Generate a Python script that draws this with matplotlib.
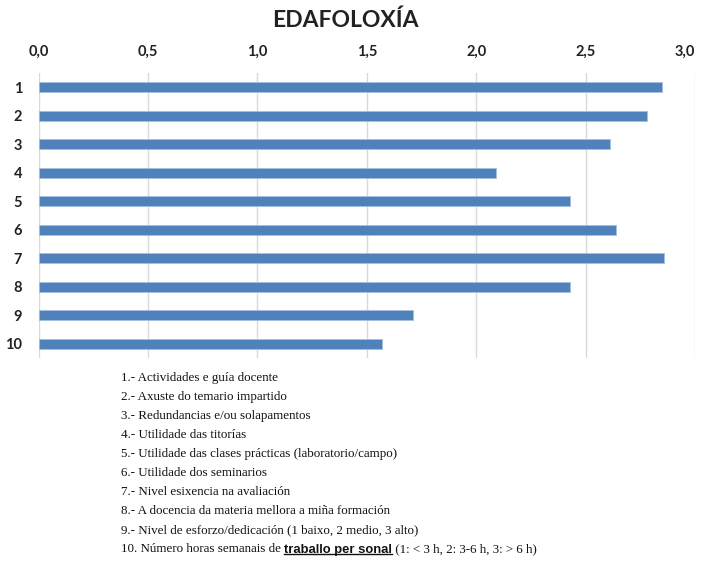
import matplotlib.pyplot as plt

# data
categories = ["1", "2", "3", "4", "5", "6", "7", "8", "9", "10"]
values = [2.85, 2.78, 2.61, 2.09, 2.43, 2.64, 2.86, 2.43, 1.71, 1.57]
ticks = [0.0, 0.5, 1.0, 1.5, 2.0, 2.5, 3.0]
tick_labels = ["0,0", "0,5", "1,0", "1,5", "2,0", "2,5", "3,0"]
legend_lines = [
    "1.- Actividades e guía docente",
    "2.- Axuste do temario impartido",
    "3.- Redundancias e/ou solapamentos",
    "4.- Utilidade das titorías",
    "5.- Utilidade das clases prácticas (laboratorio/campo)",
    "6.- Utilidade dos seminarios",
    "7.- Nivel esixencia na avaliación",
    "8.- A docencia da materia mellora a miña formación",
    "9.- Nivel de esforzo/dedicación (1 baixo, 2 medio, 3 alto)",
]
last_line = ("10. Número horas semanais de ", "traballo per sonal",
             " (1: < 3 h, 2: 3-6 h, 3: > 6 h)")

sans = ["Lato", "DejaVu Sans"]
serif = ["Liberation Serif", "DejaVu Serif"]
bar_color = "#4f81bd"
grid_color = "#d9d9d9"

W, H = 702, 563
fig = plt.figure(figsize=(W / 100, H / 100), dpi=100)
ax = fig.add_axes([38.7 / W, 1 - 358 / H, (695 - 38.7) / W, (358 - 73) / H])

y = list(range(len(categories)))
ax.barh(y, values, height=0.34, color=bar_color, edgecolor="#a7bfde", linewidth=0.6, zorder=2)
ax.set_ylim(len(categories) - 0.5, -0.5)
ax.set_xlim(0, 3.0)

ax.set_xticks(ticks)
ax.set_xticklabels(tick_labels)
ax.set_yticks(y)
ax.set_yticklabels(categories)
ax.xaxis.tick_top()
ax.tick_params(axis="both", length=0)
ax.tick_params(axis="x", pad=10)
ax.tick_params(axis="y", pad=12)
for lab in ax.get_xticklabels() + ax.get_yticklabels():
    lab.set_fontfamily(sans)
    lab.set_fontweight("bold")
    lab.set_fontsize(10.5)
    lab.set_color("#222222")
# last top label sits inside the figure edge
ax.get_xticklabels()[-1].set_horizontalalignment("right")

ax.grid(axis="x", color=grid_color, linewidth=1, zorder=0)
for s in ax.spines.values():
    s.set_visible(False)

fig.text(345 / W, 1 - 20 / H, "EDAFOLOXÍA", ha="center", va="center",
         family=sans, fontweight="bold", fontsize=16.5, color="#222222")

# explanatory list under the chart
fs = 9.4
x0 = 121 / W
for i, line in enumerate(legend_lines):
    fig.text(x0, 1 - (378 + i * 19.0) / H, line, ha="left", va="center",
             family=serif, fontsize=fs, color="#111111")

yl = 1 - (378 + 9 * 19.0) / H
t1 = fig.text(x0, yl, last_line[0], ha="left", va="center",
              family=serif, fontsize=fs, color="#111111")
t2 = fig.text(0, 0, last_line[1], ha="left", va="baseline",
              family=["Liberation Sans", "DejaVu Sans"], fontweight="bold",
              fontsize=fs, color="#111111")
fig.canvas.draw()
r = fig.canvas.get_renderer()
bb1 = t1.get_window_extent(r)
# place the bold part right after the first chunk, on the same baseline
base = bb1.y0 + 2.4
t2.set_position((bb1.x1 / W, base / H))
bb2 = t2.get_window_extent(r)
fig.add_artist(plt.Line2D([bb2.x0 / W, bb2.x1 / W], [(base - 1.8) / H] * 2,
                          color="#111111", linewidth=1.0))
fig.text(bb2.x1 / W, base / H, last_line[2], ha="left", va="baseline",
         family=serif, fontsize=fs, color="#111111")

fig.savefig("out.png", dpi=100)
